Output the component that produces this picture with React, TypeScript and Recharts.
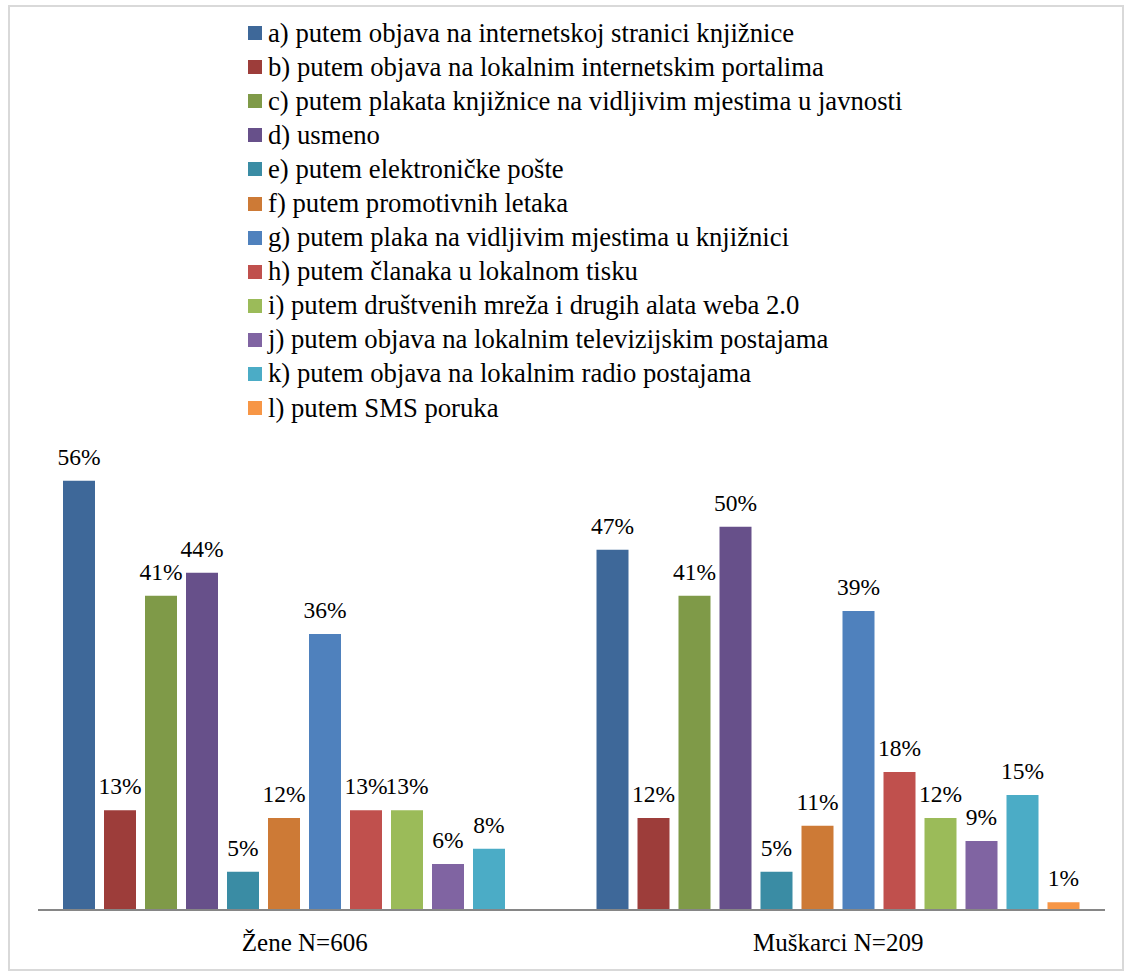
import React from "react";
import { BarChart, Bar, XAxis, YAxis, Legend, LabelList } from "recharts";

const categories = ["Žene N=606", "Muškarci N=209"];

const seriesNames = [
  "a) putem objava na internetskoj stranici knjižnice",
  "b) putem objava na lokalnim internetskim portalima",
  "c) putem plakata knjižnice na vidljivim mjestima u javnosti",
  "d) usmeno",
  "e) putem elektroničke pošte",
  "f) putem promotivnih letaka",
  "g) putem plaka na vidljivim mjestima u knjižnici",
  "h) putem članaka u lokalnom tisku",
  "i) putem društvenih mreža i drugih alata weba 2.0",
  "j) putem objava na lokalnim televizijskim postajama",
  "k) putem objava na lokalnim radio postajama",
  "l) putem SMS poruka",
];

const zeneValues = [56, 13, 41, 44, 5, 12, 36, 13, 13, 6, 8, 0];
const muskarciValues = [47, 12, 41, 50, 5, 11, 39, 18, 12, 9, 15, 1];

const seriesColors = [
  "#3E6899",
  "#9D3D3A",
  "#7F9A48",
  "#67508A",
  "#3A8CA4",
  "#CD7A36",
  "#4F81BD",
  "#C0504D",
  "#9BBB59",
  "#8064A2",
  "#4BACC6",
  "#F79646",
];

const valueLists = [zeneValues, muskarciValues];

const data = categories.map((cat, ci) => {
  const row: Record<string, string | number> = { category: cat };
  seriesNames.forEach((_, si) => {
    row["s" + si] = valueLists[ci][si];
  });
  return row;
});

const FONT = '"Liberation Serif", "Times New Roman", serif';

function LegendBox(props: any) {
  const items = props.payload || [];
  return (
    <div style={{ fontFamily: FONT, fontSize: 26.7, color: "#000" }}>
      {items.map((it: any) => (
        <div
          key={it.value}
          style={{ height: 34.1, display: "flex", alignItems: "center", whiteSpace: "nowrap" }}
        >
          <span
            style={{
              display: "inline-block",
              width: 14,
              height: 14,
              background: it.color,
              marginRight: 6,
              flexShrink: 0,
            }}
          />
          <span>{it.value}</span>
        </div>
      ))}
    </div>
  );
}

export default function App() {
  return (
    <div style={{ position: "absolute", left: 0, top: 0, width: 1128, height: 974, background: "#fff", fontFamily: FONT }}>
      <div
        style={{
          position: "absolute",
          left: 8,
          top: 5,
          width: 1116,
          height: 966,
          border: "2px solid #d9d9d9",
          boxSizing: "border-box",
        }}
      />
      <div style={{ position: "absolute", left: 0, top: 0 }}>
        <BarChart
          width={1128}
          height={974}
          data={data}
          margin={{ top: 450, right: 23, left: 38, bottom: 24 }}
          barSize={32}
          barGap={9}
        >
          <XAxis
            dataKey="category"
            height={40}
            tickLine={false}
            tickSize={0}
            tickMargin={23}
            axisLine={{ stroke: "#868686", strokeWidth: 2 }}
            tick={{ fontFamily: FONT, fontSize: 25, fill: "#000" }}
          />
          <YAxis hide domain={[0, 60]} />
          <Legend
            layout="vertical"
            align="center"
            verticalAlign="middle"
            wrapperStyle={{ left: 248, top: 16, width: 860 }}
            content={<LegendBox />}
          />
          {seriesNames.map((name, si) => (
            <Bar
              key={name}
              dataKey={"s" + si}
              name={name}
              fill={seriesColors[si]}
              isAnimationActive={false}
            >
              <LabelList
                dataKey={"s" + si}
                position="top"
                offset={16}
                formatter={(v: any) => (v ? v + "%" : "")}
                fontFamily={FONT}
                fontSize={23.5}
                fill="#000"
              />
            </Bar>
          ))}
        </BarChart>
      </div>
    </div>
  );
}
